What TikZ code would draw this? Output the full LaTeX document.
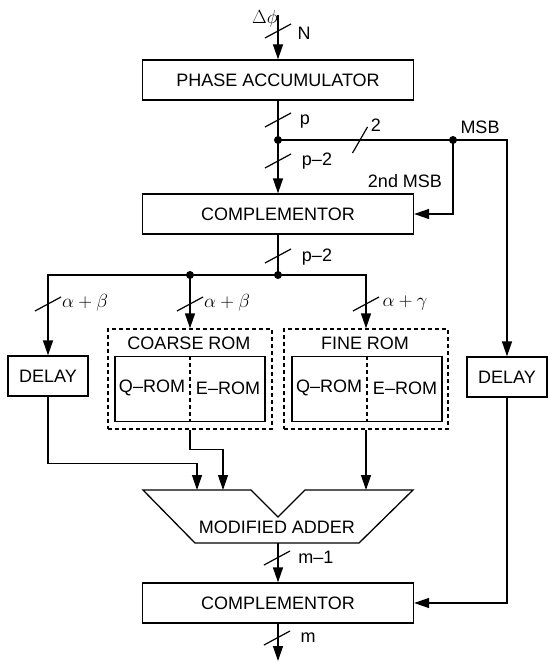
\documentclass[tikz,border=0pt]{standalone}
\usepackage{fix-cm}
\usepackage{fontspec}
\setmainfont{Liberation Sans}
\usetikzlibrary{arrows.meta}
\tikzset{
  blk/.style={draw, minimum width=271pt, minimum height=40pt, inner sep=0pt},
  dly/.style={draw, minimum width=80pt, minimum height=40pt, inner sep=0pt},
  romgrp/.style={draw, dash pattern=on 4pt off 3pt, minimum width=164pt, minimum height=100pt, inner sep=0pt},
  rombox/.style={draw, minimum width=150pt, minimum height=65pt, inner sep=0pt},
  lbl/.style={inner sep=0pt},
  grk/.style={inner sep=0pt, font=\fontsize{19}{22}\selectfont},
  sig/.style={-{Triangle[length=15pt,width=10pt]}},
  slash/.style={line width=1.2pt},
}

\begin{document}
\begin{tikzpicture}[x=1pt,y=-1pt,line width=1.3pt,every node/.style={font=\fontsize{18}{21}\selectfont}]
\useasboundingbox (0,0) rectangle (549,661);
% main blocks
\node[blk] (acc) at (278,80) {PHASE ACCUMULATOR};
\node[blk] (cmp1) at (278,214) {COMPLEMENTOR};
\node[blk] (cmp2) at (278,603) {COMPLEMENTOR};
\node[dly] (dlyL) at (48,376) {DELAY};
\node[dly] (dlyR) at (507,377) {DELAY};
% rom groups
\node[romgrp] (coarse) at (190,379) {};
\node[romgrp] (fine) at (366,379) {};
\node[lbl] (coarseT) at (189,343) {COARSE ROM};
\node[lbl] (fineT) at (365,343) {FINE ROM};
\node[rombox] (coarseR) at (190,389) {};
\node[rombox] (fineR) at (367,389) {};
\draw[dash pattern=on 4pt off 3pt] (coarseR.north) -- (coarseR.south);
\draw[dash pattern=on 4pt off 3pt] (fineR.north) -- (fineR.south);
\node[lbl] (cq) at (152,388) {Q–ROM};
\node[lbl] (ce) at (228,388) {E–ROM};
\node[lbl] (fq) at (329,388) {Q–ROM};
\node[lbl] (fe) at (405,388) {E–ROM};
% adder
\draw (143,490) -- (251,490) -- (278,517) -- (305,490) -- (413,490) -- (359,543) -- (195,543) -- cycle;
\node[lbl] (add) at (277,527) {MODIFIED ADDER};
\coordinate (addA) at (197,490);
\coordinate (addB) at (223,490);
\coordinate (addC) at (366,490);
\coordinate (addO) at (278,543);
% connectors
\coordinate (src) at (278,15);
\coordinate (dst) at (278,661);
\coordinate (j1) at (278,140);
\coordinate (msb) at (453,140);
\coordinate (j2) at (278,275);
\coordinate (jM) at (190,275);
\draw[sig] (src) -- (acc.north);
\draw (acc.south) -- (j1);
\draw[sig] (j1) -- (cmp1.north);
\draw[sig] (j1) -| (dlyR.north);
\draw[sig] (msb) |- (cmp1.east);
\draw (cmp1.south) -- (j2);
\draw[sig] (j2) -| (dlyL.north);
\draw[sig] (j2) -| (fine.north);
\draw[sig] (jM) -- (coarse.north);
\draw[sig] (dlyL.south) -- ++(0,67) -| (addA);
\draw[sig] (coarse.south) -- ++(0,20) -| (addB);
\draw[sig] (fine.south) -- (addC);
\draw[sig] (dlyR.south) |- (cmp2.east);
\draw[sig] (addO) -- (cmp2.north);
\draw[sig] (cmp2.south) -- (dst);
\foreach \p in {j1,msb,j2,jM} \fill (\p) circle (4pt);
% bus widths
\foreach \x/\y in {278/31, 278/120, 278/161, 278/256, 48/304, 190/304, 366/304, 277/558, 277/638}
  \draw[slash] (\x,\y) ++(-13,7) -- ++(26,-14);
\draw[slash] (360,140) ++(-7.5,13) -- ++(15,-26);
% labels
\node[grk] (dphi) at (265,19) {$\Delta\phi$};
\node[lbl] (lN) at (304,33) {N};
\node[lbl] (lp) at (305,122) {p};
\node[lbl] (lp2a) at (317,161) {p–2};
\node[lbl] (l2) at (376,125) {2};
\node[lbl] (lmsb) at (480,127) {MSB};
\node[lbl] (l2msb) at (405,181) {2nd MSB};
\node[lbl] (lp2b) at (317,257) {p–2};
\node[grk] (lab1) at (85,303) {$\alpha+\beta$};
\node[grk] (lab2) at (227,303) {$\alpha+\beta$};
\node[grk] (lag) at (405,303) {$\alpha+\gamma$};
\node[lbl] (lm1) at (316,557) {m–1};
\node[lbl] (lm) at (308,638) {m};
\end{tikzpicture}
\end{document}
